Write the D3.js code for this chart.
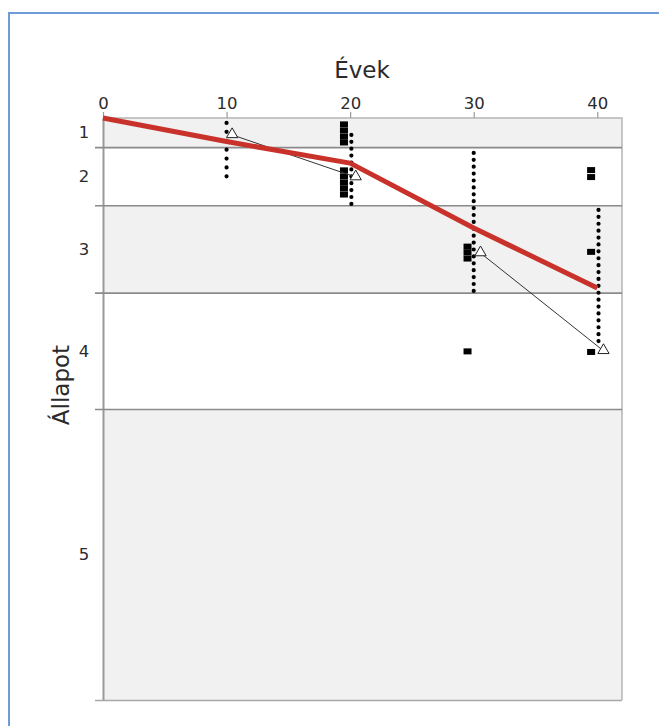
<!DOCTYPE html>
<html>
<head>
<meta charset="utf-8">
<script src="https://cdn.jsdelivr.net/npm/d3@7"></script>
<style>
  html, body { margin: 0; padding: 0; background: #fff; }
  svg text { font-family: "DejaVu Sans", Verdana, sans-serif; fill: #2b2b2b; }
</style>
</head>
<body>
<svg id="chart" width="659" height="726"></svg>
<script>
// Years shown on the top axis
const yearTicks = [0, 10, 20, 30, 40];

// Condition classes and their band limits on the condition index
const stateLabels = ["1", "2", "3", "4", "5"];
const stateBounds = [0, 1, 3, 6, 10, 20];

// Modelled deterioration curve (year, condition index)
const curveYears = [0, 10, 20, 30, 40];
const curveValues = [0, 0.81, 1.55, 3.78, 5.84];

// Observed spread per inspection year (dotted ranges)
const rangeYears = [10, 20.1, 30, 40.1];
const rangeLow = [0.17, 0.58, 1.2, 3.16];
const rangeHigh = [2.03, 2.96, 5.98, 7.9];

// Mean observed condition (triangles)
const meanYears = [10.45, 20.45, 30.55, 40.5];
const meanValues = [0.58, 2.03, 4.64, 8.0];
// Pairs of means joined by a thin line
const meanLinks = [[0, 1], [2, 3]];

// Individual inspection results (squares)
const obsYears = [19.5, 19.5, 19.5, 19.5,
                  19.5, 19.5, 19.5, 19.5, 19.5,
                  29.5, 29.5, 29.5, 29.5,
                  39.5, 39.5, 39.5, 39.5];
const obsValues = [0.22, 0.43, 0.64, 0.84,
                   1.8, 2.01, 2.22, 2.42, 2.63,
                   4.42, 4.62, 4.83, 8.02,
                   1.79, 2.03, 4.6, 8.04];

const svg = d3.select("#chart");

// outer frame
svg.append("rect")
  .attr("x", 9).attr("y", 13)
  .attr("width", 700).attr("height", 800)
  .attr("fill", "none")
  .attr("stroke", "#6f9bd8")
  .attr("stroke-width", 2);

const plotLeft = 103, plotRight = 622, plotTop = 118, plotBottom = 700;
const x = d3.scaleLinear().domain([0, 42]).range([plotLeft, plotRight]);
const y = d3.scaleLinear().domain([0, 20]).range([plotTop, plotBottom]);

// alternating bands
const bands = stateLabels.map((s, i) => ({ label: s, lo: stateBounds[i], hi: stateBounds[i + 1], i }));
svg.append("g").selectAll("rect").data(bands).join("rect")
  .attr("x", plotLeft)
  .attr("y", d => y(d.lo))
  .attr("width", plotRight - plotLeft)
  .attr("height", d => y(d.hi) - y(d.lo))
  .attr("fill", d => d.i % 2 === 0 ? "#f1f1f1" : "#ffffff");

// plot frame (top and right)
svg.append("path")
  .attr("d", `M${plotLeft},${plotTop}H${plotRight}V${plotBottom}`)
  .attr("fill", "none")
  .attr("stroke", "#b5b5b5")
  .attr("stroke-width", 1.5);

// band boundaries as left-axis ticks running across the plot
const yAxis = d3.axisLeft(y)
  .tickValues(stateBounds.slice(1))
  .tickSizeInner(-(plotRight - plotLeft))
  .tickSizeOuter(0)
  .tickFormat("");
const gy = svg.append("g").attr("transform", `translate(${plotLeft},0)`).call(yAxis);
gy.select(".domain").attr("stroke", "#9a9a9a").attr("stroke-width", 2);
gy.selectAll(".tick line")
  .attr("x1", -8)
  .attr("stroke", "#8a8a8a")
  .attr("stroke-width", 1.6);
gy.selectAll(".tick").filter(d => d === 20).select("line")
  .attr("stroke", "#a8a8a8");

// class labels centred in their bands
svg.append("g").selectAll("text").data(bands).join("text")
  .attr("x", 84)
  .attr("y", d => y((d.lo + d.hi) / 2))
  .attr("dy", "0.35em")
  .attr("text-anchor", "middle")
  .attr("font-size", 16.5)
  .text(d => d.label);

// top axis with year ticks
const xAxis = d3.axisTop(x).tickValues(yearTicks).tickSize(6).tickPadding(3);
const gx = svg.append("g").attr("transform", `translate(0,${plotTop})`).call(xAxis);
gx.select(".domain").remove();
gx.selectAll(".tick line").attr("stroke", "#9a9a9a").attr("stroke-width", 1.2);
gx.selectAll(".tick text").attr("font-size", 16.5).attr("fill", "#2b2b2b")
  .attr("font-family", "DejaVu Sans, Verdana, sans-serif");

// axis titles
svg.append("text")
  .attr("x", 362).attr("y", 78)
  .attr("text-anchor", "middle")
  .attr("font-size", 23)
  .text("Évek");
svg.append("text")
  .attr("transform", `translate(69,385) rotate(-90)`)
  .attr("text-anchor", "middle")
  .attr("font-size", 23)
  .text("Állapot");

// dotted ranges
svg.append("g").selectAll("line").data(rangeYears).join("line")
  .attr("x1", d => x(d)).attr("x2", d => x(d))
  .attr("y1", (d, i) => y(rangeLow[i]))
  .attr("y2", (d, i) => y(rangeHigh[i]))
  .attr("stroke", "#000")
  .attr("stroke-width", 4.2)
  .attr("stroke-linecap", "round")
  .attr("stroke-dasharray", (d, i) => i === 0 ? "0 8.9" : "0 6.9");

// squares
svg.append("g").selectAll("rect").data(obsYears).join("rect")
  .attr("x", d => x(d) - 4)
  .attr("y", (d, i) => y(obsValues[i]) - 3)
  .attr("width", 8).attr("height", 6)
  .attr("fill", "#000");

// thin line between means
svg.append("g").selectAll("line").data(meanLinks).join("line")
  .attr("x1", d => x(meanYears[d[0]]))
  .attr("y1", d => y(meanValues[d[0]]))
  .attr("x2", d => x(meanYears[d[1]]))
  .attr("y2", d => y(meanValues[d[1]]))
  .attr("stroke", "#333")
  .attr("stroke-width", 1);

// deterioration curve
svg.append("path")
  .datum(curveYears.map((yr, i) => [yr, curveValues[i]]))
  .attr("d", d3.line().x(d => x(d[0])).y(d => y(d[1])))
  .attr("fill", "none")
  .attr("stroke", "#c8322b")
  .attr("stroke-width", 5)
  .attr("stroke-linejoin", "round");

// mean triangles
const tri = d3.symbol().type(d3.symbolTriangle).size(55);
svg.append("g").selectAll("path").data(meanYears).join("path")
  .attr("transform", (d, i) => `translate(${x(d)},${y(meanValues[i]) - 0.5})`)
  .attr("d", tri)
  .attr("fill", "#fff")
  .attr("stroke", "#222")
  .attr("stroke-width", 1);
</script>
</body>
</html>
